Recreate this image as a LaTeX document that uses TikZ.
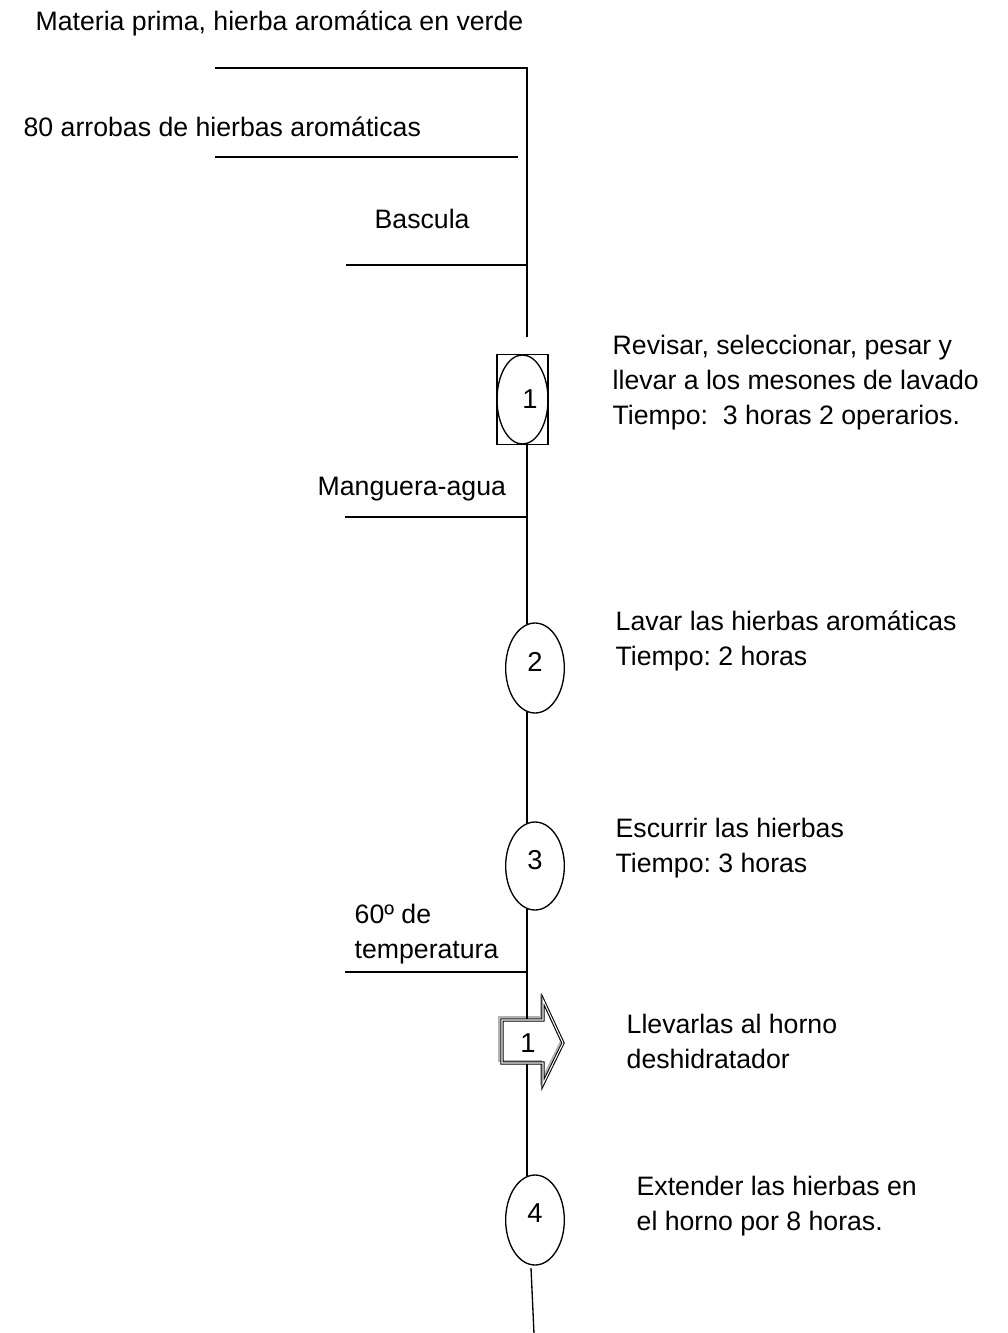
\documentclass[tikz,border=0pt]{standalone}
\usepackage{fontspec}
\setmainfont{Liberation Sans}
\usetikzlibrary{shapes.geometric,calc}
\frenchspacing
\begin{document}
\begin{tikzpicture}[x=0.75pt,y=-0.75pt,
  line width=1pt,
  lbl/.style={anchor=base west,inner sep=0pt,align=left,font=\fontsize{20}{26.25}\selectfont},
  op/.style={ellipse,draw,minimum width=44pt,minimum height=67.5pt,inner sep=0pt},
  num/.style={font=\fontsize{20.5}{24}\selectfont,inner sep=0pt},
]
\useasboundingbox (0,0) rectangle (1007,1333);

% ---- spine and feed lines
\coordinate (feed) at (215,68);
\coordinate (corner) at (527,68);
\coordinate (spineTop) at (527,337);
\coordinate (arrL) at (215,157);
\coordinate (arrR) at (518,157);
\coordinate (basL) at (346,265);
\coordinate (manL) at (345,517);
\coordinate (temL) at (345,972);
\coordinate (arrTop) at (527,1019);
\coordinate (arrBot) at (527,1064);
\coordinate (tailTop) at (531,1268);
\coordinate (tailEnd) at (534,1334);

% ---- left-hand labels (multi-line nodes sit on the baseline of their last line)
\node[lbl] (tMat) at (35,31) {Materia prima, hierba aromática en verde};
\node[lbl] (tArr) at (23,137) {80 arrobas de hierbas aromáticas};
\node[lbl] (tBas) at (374,229) {Bascula};
\node[lbl] (tMan) at (317,495) {Manguera-agua};
\node[lbl] (tTem) at (354,958) {60º de\\temperatura};

% ---- operation symbols
\node[draw,minimum width=38.25pt,minimum height=67.5pt,inner sep=0pt] (box) at (522.5,399.5) {};
\node[ellipse,draw,minimum width=38.25pt,minimum height=66.75pt,inner sep=0pt,
      label={[num,xshift=5.6pt]center:1}] (e1) at (522.5,399.5) {};
\node[op,label={[num,yshift=4.5pt]center:2}] (e2) at (535,668) {};
\node[op,minimum height=66pt,label={[num,yshift=4.5pt]center:3}] (e3) at (535,866) {};
\node[op,label={[num,yshift=5.5pt]center:4}] (e4) at (535,1220) {};

% ---- transport arrow (double outline with a grey edge)
\fill[white] (500,1018) -- (542,1018) -- (542,998) -- (562,1042) -- (542,1083) -- (542,1062) -- (500,1062) -- cycle;
\draw[gray!60,line width=1.3pt] (499,1017) -- (541,1017) -- (541,997) -- (561,1041) -- (541,1082) -- (541,1061) -- (499,1061) -- cycle;
\draw[double=white,double distance=0.8pt,line width=0.8pt] (502,1020) -- (543,1020) -- (543,1000) -- (563,1043) -- (543,1084) -- (543,1063) -- (502,1063) -- cycle;
\node[num] (a1) at (528,1043) {1};

% ---- connectors
\draw (feed) -- (corner) -- (spineTop);
\draw (arrL) -- (arrR);
\draw (basL) -- (basL -| corner);
\draw (manL) -- (manL -| corner);
\draw (temL) -- (temL -| corner);
\draw (box.south -| corner) -- (corner |- e2.100);
\draw (corner |- e2.260) -- (corner |- e3.100);
\draw (corner |- e3.260) -- (arrTop);
\draw (arrBot) -- (corner |- e4.100);
\draw (tailTop) -- (tailEnd);

% ---- right-hand descriptions
\node[lbl] (d1) at (612,424) {Revisar, seleccionar, pesar y\\llevar a los mesones de lavado\\Tiempo:~ 3 horas 2 operarios.};
\node[lbl] (d2) at (615,665) {Lavar las hierbas aromáticas\\Tiempo: 2 horas};
\node[lbl] (d3) at (615,872) {Escurrir las hierbas\\Tiempo: 3 horas};
\node[lbl] (d4) at (626,1068) {Llevarlas al horno\\deshidratador};
\node[lbl] (d5) at (636,1230) {Extender las hierbas en\\el horno por 8 horas.};
\end{tikzpicture}
\end{document}
